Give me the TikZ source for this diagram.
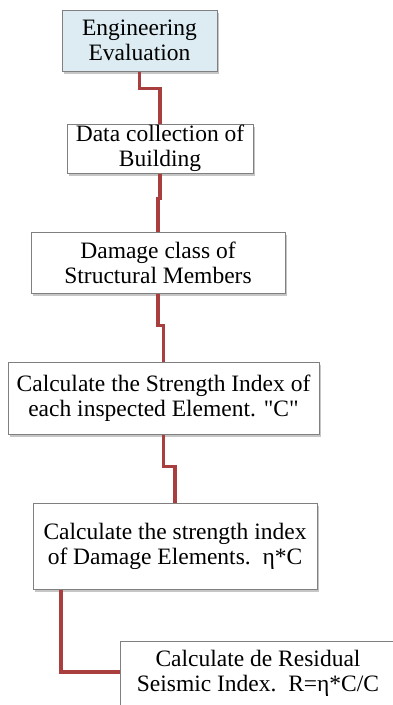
\documentclass[tikz,border=0pt]{standalone}
\usepackage{fontspec}
\setmainfont{Liberation Serif}
\usetikzlibrary{shadows}

\begin{document}
\begin{tikzpicture}[x=1pt,y=-1pt,
    stepbox/.style={draw=boxline, line width=1pt, fill=white, align=center,
      inner sep=0pt, font=\fontsize{23.5}{25}\selectfont,
      drop shadow={opacity=0.45, shadow xshift=1.5pt, shadow yshift=-3pt}},
    link/.style={draw=linkred, line width=3.6pt}]
    % Define colors
    \definecolor{boxline}{RGB}{128,128,128} % grey frame
    \definecolor{topfill}{RGB}{220,236,242} % light blue
    \definecolor{linkred}{RGB}{168,62,62}   % dark red

    % Fix the frame
    \useasboundingbox (0,0) rectangle (393,705);
    \coordinate (c56) at (61,672);

    % Draw boxes
    \node[stepbox, fill=topfill, minimum width=155pt, minimum height=61pt] (eval) at (139.5,40.5) {Engineering\\Evaluation};
    \node[stepbox, minimum width=186pt, minimum height=49pt] (data) at (160,148.5) {Data collection of\\Building};
    \node[stepbox, minimum width=254pt, minimum height=61pt] (damage) at (158,262.5) {Damage class of\\Structural Members};
    \node[stepbox, minimum width=311pt, minimum height=72pt] (strength) at (163.5,398) {Calculate the Strength Index of\\each inspected Element. \textquotedbl C\textquotedbl};
    \node[stepbox, minimum width=284pt, minimum height=86pt] (dmgidx) at (175,546) {Calculate the strength index\\of Damage Elements.\ \ η*C};
    \node[stepbox, minimum width=276pt, minimum height=64pt] (resid) at (258,673) {Calculate de Residual\\Seismic Index.\ \ R=η*C/C};

    % Draw connectors
    \draw[link] (eval.south) -- ++(0,17) -| (data.north);
    \draw[link] (data.south) -- ++(0,25) -| (damage.north);
    \draw[link] (damage.south) -- ++(0,32) -| (strength.north);
    \draw[link] (strength.south) -- ++(0,32) -| (dmgidx.north);
    \draw[link] (dmgidx.south -| c56) -- (c56) -- (c56 -| resid.west);
\end{tikzpicture}
\end{document}
